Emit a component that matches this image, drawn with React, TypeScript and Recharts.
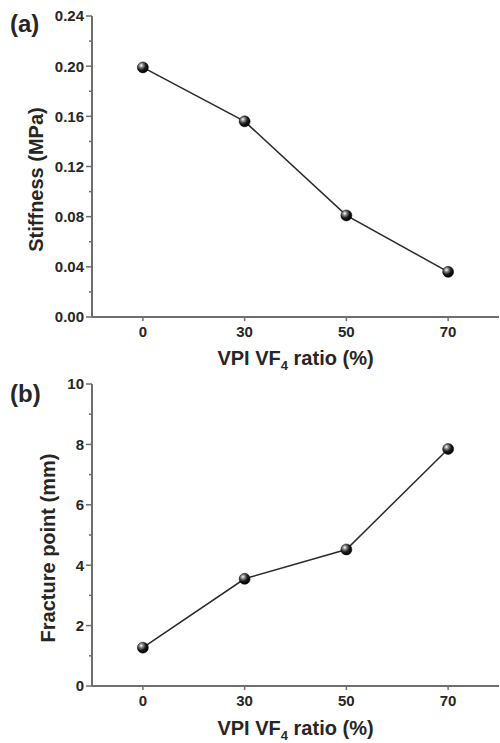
import React from 'react';
import { LineChart, Line, XAxis, YAxis } from 'recharts';

const ratios = ['0', '30', '50', '70'];
const stiffness = [0.199, 0.156, 0.081, 0.036];
const fracture = [1.27, 3.55, 4.52, 7.85];

const stiffnessTicks = [0, 0.02, 0.04, 0.06, 0.08, 0.1, 0.12, 0.14, 0.16, 0.18, 0.2, 0.22, 0.24];
const stiffnessMajor = [0, 0.04, 0.08, 0.12, 0.16, 0.2, 0.24];
const fractureTicks = [0, 1, 2, 3, 4, 5, 6, 7, 8, 9, 10];
const fractureMajor = [0, 2, 4, 6, 8, 10];

const dataA = ratios.map((r, i) => ({ ratio: r, value: stiffness[i] }));
const dataB = ratios.map((r, i) => ({ ratio: r, value: fracture[i] }));

const AXIS = '#6e6e6e';
const TEXT = '#262626';
const FONT = '"Liberation Sans", Arial, sans-serif';

const YTick = (props: any) => {
  const { x, y, payload, majors, digits } = props;
  const major = majors.some((m: number) => Math.abs(m - payload.value) < 1e-9);
  return (
    <g>
      <line x1={x} x2={x - (major ? 6 : 3)} y1={y} y2={y} stroke={AXIS} strokeWidth={1.5} />
      {major && (
        <text x={x - 8} y={y} dy="0.36em" textAnchor="end" fontSize={15} fontWeight="bold" fill={TEXT} fontFamily={FONT}>
          {payload.value.toFixed(digits)}
        </text>
      )}
    </g>
  );
};

const XTitle = ({ viewBox, gap }: any) => {
  const cx = viewBox.x + viewBox.width / 2;
  return (
    <text x={cx} y={viewBox.y + gap} textAnchor="middle" fontSize={20} fontWeight="bold" fill={TEXT} fontFamily={FONT}>
      VPI VF<tspan fontSize={13} dy={5}>4</tspan>
      <tspan dy={-5}> ratio (%)</tspan>
    </text>
  );
};

const YTitle = ({ viewBox, title, panel, baseX, panelY }: any) => {
  const cy = viewBox.y + viewBox.height / 2 + 13;
  return (
    <g fontFamily={FONT} fontWeight="bold" fill={TEXT}>
      <text x={10} y={panelY} fontSize={24}>{panel}</text>
      <text x={baseX} y={cy} fontSize={20} textAnchor="middle" transform={`rotate(-90, ${baseX}, ${cy})`}>
        {title}
      </text>
    </g>
  );
};

const Ball = (id: string) => (p: any) => (
  <circle key={`${id}-${p.index}`} cx={p.cx} cy={p.cy} r={5.5} fill={`url(#${id})`} stroke="#000" strokeWidth={0.5} />
);

const BallDef = ({ id }: { id: string }) => (
  <defs>
    <radialGradient id={id} cx="35%" cy="32%" r="70%">
      <stop offset="0%" stopColor="#ffffff" />
      <stop offset="25%" stopColor="#8a8a8a" />
      <stop offset="60%" stopColor="#1a1a1a" />
      <stop offset="100%" stopColor="#000000" />
    </radialGradient>
  </defs>
);

const Panel = ({ data, height, top, ticks, majors, digits, domain, title, panel, baseX, panelY, axisHeight, titleGap, id }: any) => (
  <LineChart width={500} height={height} data={data} margin={{ top, right: 1, bottom: 0, left: 0 }}>
    <BallDef id={id} />
    <XAxis
      dataKey="ratio"
      scale="band"
      height={axisHeight}
      tickSize={4}
      tickMargin={5}
      tickLine={{ stroke: AXIS, strokeWidth: 1.5 }}
      axisLine={{ stroke: AXIS, strokeWidth: 2 }}
      tick={{ fontSize: 15, fontWeight: 'bold', fill: TEXT, fontFamily: FONT }}
      label={<XTitle gap={titleGap} />}
    />
    <XAxis xAxisId="top" dataKey="ratio" scale="band" orientation="top" height={0} tick={false} tickLine={false} axisLine={{ stroke: AXIS, strokeWidth: 2 }} />
    <YAxis
      width={92}
      domain={domain}
      ticks={ticks}
      interval={0}
      tickSize={0}
      tickMargin={0}
      tickLine={false}
      axisLine={{ stroke: AXIS, strokeWidth: 2 }}
      tick={<YTick majors={majors} digits={digits} />}
      label={<YTitle title={title} panel={panel} baseX={baseX} panelY={panelY} />}
    />
    <YAxis yAxisId="right" orientation="right" width={0} domain={domain} tick={false} tickLine={false} axisLine={{ stroke: AXIS, strokeWidth: 2 }} />
    <Line
      dataKey="value"
      stroke="#2a2a2a"
      strokeWidth={1.5}
      isAnimationActive={false}
      dot={Ball(id)}
      activeDot={false}
    />
  </LineChart>
);

export default function App() {
  return (
    <div style={{ position: 'absolute', left: 0, top: 0, width: 500, height: 743, background: '#fff' }}>
      <Panel
        id="ballA"
        data={dataA}
        height={372}
        top={16}
        ticks={stiffnessTicks}
        majors={stiffnessMajor}
        digits={2}
        domain={[0, 0.24]}
        title="Stiffness (MPa)"
        panel="(a)"
        baseX={43}
        panelY={32}
        axisHeight={55}
        titleGap={48}
      />
      <Panel
        id="ballB"
        data={dataB}
        height={371}
        top={12}
        ticks={fractureTicks}
        majors={fractureMajor}
        digits={0}
        domain={[0, 10]}
        title="Fracture point (mm)"
        panel="(b)"
        baseX={55}
        panelY={30}
        axisHeight={57}
        titleGap={49}
      />
    </div>
  );
}
